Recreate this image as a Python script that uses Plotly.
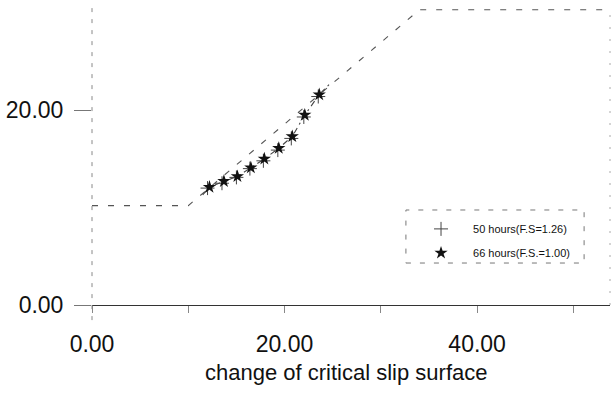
import plotly.graph_objects as go

# Slope ground profile (toe, crest, top of slope)
ground_x = [0.0, 10.0, 34.0, 53.8]
ground_y = [10.2, 10.2, 30.3, 30.3]

# Critical slip surface after 66 hours (F.S.=1.00)
slip66_x = [12.2, 13.7, 15.1, 16.5, 17.9, 19.4, 20.8, 22.1, 23.6]
slip66_y = [12.1, 12.7, 13.2, 14.1, 15.0, 16.1, 17.3, 19.5, 21.6]

# Critical slip surface after 50 hours (F.S=1.26)
slip50_x = [12.0, 13.5, 15.0, 16.4, 17.8, 19.3, 20.7, 22.0, 23.5]
slip50_y = [12.0, 12.5, 13.1, 14.0, 14.8, 15.9, 17.1, 19.3, 21.4]

# Guide line of the slip surface running out to the slope face
guide_x = [11.5, 24.7]
guide_y = [11.3, 22.7]

x_ticks = [0, 10, 20, 30, 40, 50]
x_labels = ["0.00", "", "20.00", "", "40.00", ""]
y_ticks = [0, 20]
y_labels = ["0.00", "20.00"]

FONT = "Liberation Sans, Arial, sans-serif"

fig = go.Figure()

fig.add_trace(go.Scatter(
    x=ground_x, y=ground_y, mode="lines",
    line=dict(color="#555555", width=1.1, dash="6px,10px"),
    showlegend=False, hoverinfo="skip"))

fig.add_trace(go.Scatter(
    x=[guide_x[0]] + slip66_x + [guide_x[1]],
    y=[guide_y[0]] + slip66_y + [guide_y[1]],
    mode="lines",
    line=dict(color="#444444", width=1.1, dash="6px,4px,2px,4px"),
    showlegend=False, hoverinfo="skip"))

fig.add_trace(go.Scatter(
    x=slip50_x, y=slip50_y, mode="markers",
    name="50 hours(F.S=1.26)", legendgroup="a",
    marker=dict(symbol="cross-thin", size=10, color="#444444",
                line=dict(width=1, color="#444444"))))

fig.add_trace(go.Scatter(
    x=slip66_x, y=slip66_y, mode="markers",
    name="66 hours(F.S.=1.00)", legendgroup="b",
    marker=dict(symbol="star", size=10, color="#111111",
                line=dict(width=0))))

shapes = [
    # left frame edge, running a little below the baseline
    dict(type="line", xref="paper", yref="paper", x0=0, x1=0,
         y0=-0.05, y1=1.0, line=dict(color="#888888", width=1, dash="4px,7px")),
    # right frame edge
    dict(type="line", xref="paper", yref="paper", x0=1, x1=1,
         y0=0, y1=0.975, line=dict(color="#aaaaaa", width=1, dash="2px,10px")),
    # legend frame
    dict(type="rect", xref="paper", yref="paper",
         x0=0.606, x1=0.950, y0=0.139, y1=0.3146,
         line=dict(color="#777777", width=1, dash="5px,9px")),
]

fig.update_layout(
    width=613, height=394,
    margin=dict(l=92, r=3, t=3, b=89),
    paper_bgcolor="white", plot_bgcolor="white",
    font=dict(family=FONT, color="#111111"),
    showlegend=True,
    legend=dict(x=0.612, y=0.300, xanchor="left", yanchor="top",
                bgcolor="rgba(0,0,0,0)", borderwidth=0,
                font=dict(size=11, family=FONT, color="#111111"),
                itemwidth=54, tracegroupgap=5),
    shapes=shapes,
    annotations=[dict(text="change of critical slip surface",
                      xref="paper", yref="paper", x=0.49, y=-0.222,
                      xanchor="center", yanchor="middle", showarrow=False,
                      font=dict(size=22, family=FONT, color="#111111"))],
)

fig.update_xaxes(
    range=[0, 53.8], showgrid=False, zeroline=False,
    showline=True, linecolor="#333333", linewidth=1.3,
    tickmode="array", tickvals=x_ticks, ticktext=x_labels,
    ticks="outside", ticklen=7, tickcolor="#888888", tickwidth=1,
    ticklabelstandoff=11,
    tickfont=dict(size=23, family=FONT, color="#111111"))

fig.update_yaxes(
    range=[0, 31], showgrid=False, zeroline=False, showline=False,
    tickmode="array", tickvals=y_ticks, ticktext=y_labels,
    ticks="outside", ticklen=17, tickcolor="#777777", tickwidth=1,
    ticklabelstandoff=6,
    tickfont=dict(size=23, family=FONT, color="#111111"))

fig.write_html("out.html")
